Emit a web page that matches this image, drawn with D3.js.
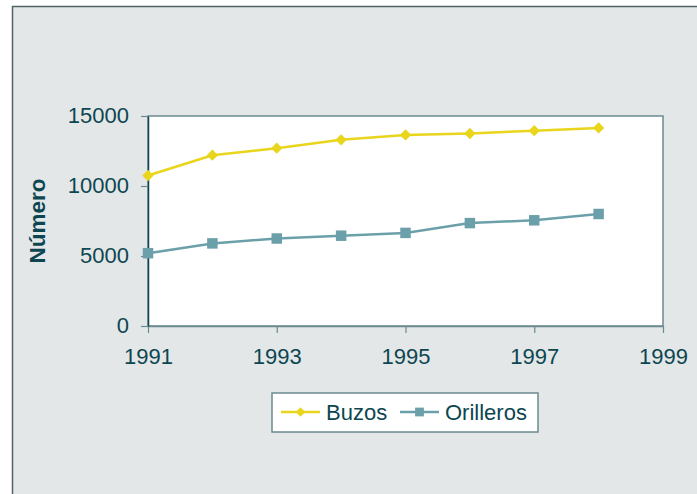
<!DOCTYPE html>
<html>
<head>
<meta charset="utf-8">
<script src="https://cdn.jsdelivr.net/npm/d3@7"></script>
<style>
  body { margin: 0; background: #fff; }
  svg { display: block; font-family: "Liberation Sans", Arial, sans-serif; }
</style>
</head>
<body>
<div id="chart"></div>
<script>
const years = [1991, 1992, 1993, 1994, 1995, 1996, 1997, 1998]
const buzos = [10750, 12200, 12700, 13300, 13650, 13750, 13950, 14150]
const orilleros = [5200, 5900, 6250, 6450, 6650, 7350, 7550, 8000]
const yTicks = [0, 5000, 10000, 15000]
const xTicks = [1991, 1993, 1995, 1997, 1999]

const width = 697
const height = 494
const plot = { left: 148, right: 663, top: 116, bottom: 326 }
const textColor = '#0d4651'
const axisColor = '#6b8a8f'
const yellow = '#e9d51b'
const teal = '#6ba0aa'
const fontSize = '22px'

const svg = d3.select('#chart').append('svg')
  .attr('width', width)
  .attr('height', height)

// outer panel
svg.append('rect')
  .attr('x', 12).attr('y', 6)
  .attr('width', width).attr('height', height)
  .attr('fill', '#e3e7e8')
svg.append('path')
  .attr('d', `M12.5,${height}V6.5H${width}`)
  .attr('fill', 'none')
  .attr('stroke', '#4f6365')
  .attr('stroke-width', 1.5)

const x = d3.scaleLinear().domain([1991, 1999]).range([plot.left, plot.right])
const y = d3.scaleLinear().domain([0, 15000]).range([plot.bottom, plot.top])

svg.append('rect')
  .attr('x', plot.left).attr('y', plot.top)
  .attr('width', plot.right - plot.left).attr('height', plot.bottom - plot.top)
  .attr('fill', '#fff')
  .attr('stroke', axisColor)
  .attr('stroke-width', 1.5)

const xAxis = svg.append('g')
  .attr('transform', `translate(0,${plot.bottom})`)
  .call(d3.axisBottom(x).tickValues(xTicks).tickFormat(d3.format('d')).tickSize(7).tickSizeOuter(0))
xAxis.select('.domain').attr('stroke', axisColor).attr('stroke-width', 1.5)
xAxis.selectAll('.tick line').attr('stroke', axisColor).attr('stroke-width', 1.2)
xAxis.selectAll('.tick text')
  .attr('fill', textColor)
  .style('font-size', fontSize)
  .style('font-family', '"Liberation Sans", Arial, sans-serif')
  .attr('dy', 0)
  .attr('y', 38)

const yAxis = svg.append('g')
  .attr('transform', `translate(${plot.left},0)`)
  .call(d3.axisLeft(y).tickValues(yTicks).tickFormat(d3.format('d')).tickSize(7).tickSizeOuter(0))
yAxis.select('.domain').attr('stroke', textColor).attr('stroke-width', 1.5)
yAxis.selectAll('.tick line').attr('stroke', axisColor).attr('stroke-width', 1.2)
yAxis.selectAll('.tick text')
  .attr('fill', textColor)
  .style('font-size', fontSize)
  .style('font-family', '"Liberation Sans", Arial, sans-serif')
  .attr('x', -19)
  .attr('dy', '0.3em')

svg.append('text')
  .attr('transform', `translate(45,${(plot.top + plot.bottom) / 2}) rotate(-90)`)
  .attr('text-anchor', 'middle')
  .attr('fill', textColor)
  .style('font-size', '22.5px')
  .attr('font-weight', 'bold')
  .text('Número')

const series = [
  { name: 'Buzos', values: buzos, color: yellow, shape: d3.symbolSquare, size: 64, rotate: 45 },
  { name: 'Orilleros', values: orilleros, color: teal, shape: d3.symbolSquare, size: 110, rotate: 0 }
]

const line = d3.line().x((d, i) => x(years[i])).y(d => y(d))

series.forEach(s => {
  svg.append('path')
    .attr('d', line(s.values))
    .attr('fill', 'none')
    .attr('stroke', s.color)
    .attr('stroke-width', 2.5)
  svg.selectAll(null)
    .data(s.values)
    .enter()
    .append('path')
    .attr('transform', (d, i) => `translate(${x(years[i])},${y(d)}) rotate(${s.rotate})`)
    .attr('d', d3.symbol().type(s.shape).size(s.size))
    .attr('fill', s.color)
})

// legend
const legend = svg.append('g').attr('transform', 'translate(272,393)')
legend.append('rect')
  .attr('width', 266).attr('height', 39)
  .attr('fill', '#fff')
  .attr('stroke', axisColor)
  .attr('stroke-width', 1.5)

const legendX = [9, 128]
series.forEach((s, i) => {
  const g = legend.append('g').attr('transform', `translate(${legendX[i]},19)`)
  g.append('line')
    .attr('x1', 0).attr('x2', 39)
    .attr('stroke', s.color).attr('stroke-width', 2.5)
  g.append('path')
    .attr('transform', `translate(19.5,0) rotate(${s.rotate})`)
    .attr('d', d3.symbol().type(s.shape).size(s.size * 0.7))
    .attr('fill', s.color)
  g.append('text')
    .attr('x', 45)
    .attr('dy', '0.35em')
    .attr('fill', textColor)
    .style('font-size', fontSize)
    .text(s.name)
})
</script>
</body>
</html>
